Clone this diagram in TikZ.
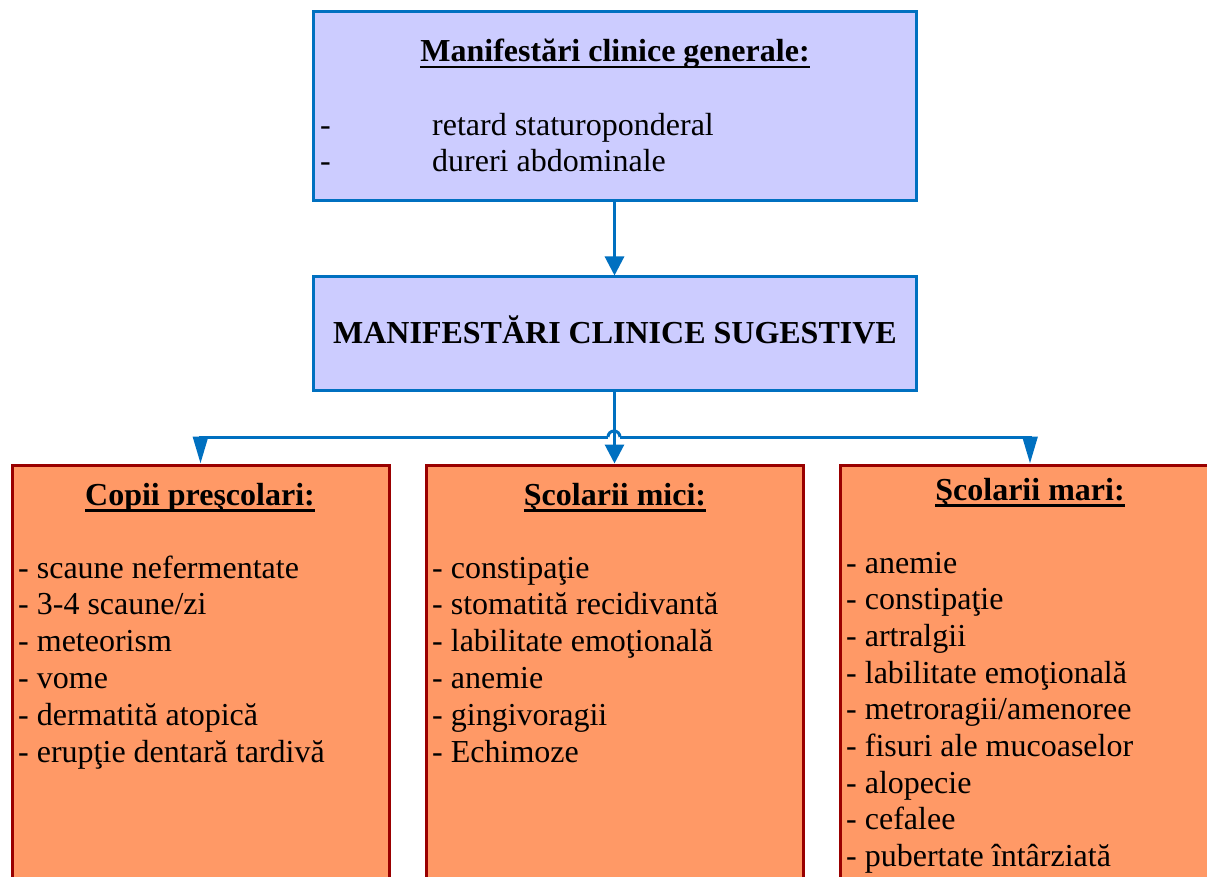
\documentclass[tikz,border=0pt]{standalone}
\usepackage{fontspec}
\setmainfont{Liberation Serif}
\newcommand\myul[1]{\setbox0\hbox{#1}\rlap{\rule[-6.5pt]{\wd0}{2.6pt}}\box0}
\usetikzlibrary{arrows.meta}
\definecolor{bblue}{RGB}{0,112,192}
\definecolor{lav}{RGB}{204,204,255}
\definecolor{org}{RGB}{255,153,102}
\definecolor{dred}{RGB}{153,0,0}
\begin{document}
\begin{tikzpicture}[x=1pt,y=-1pt,
  bluebox/.style={draw=bblue, fill=lav, line width=3pt, rectangle, inner sep=0pt},
  redbox/.style={draw=dred, fill=org, line width=3pt, rectangle, inner sep=0pt},
  wire/.style={draw=bblue, line width=3pt},
  conn/.style={wire, -{Triangle[length=19pt,width=19pt]}},
  sideconn/.style={wire, -{Triangle[length=27pt,width=15pt]}},
  txt/.style={font=\fontsize{32}{38}\selectfont, inner sep=0pt, anchor=base west},
  ttl/.style={font=\fontsize{32}{38}\selectfont\bfseries, inner sep=0pt, anchor=base}]
\useasboundingbox (0,0) rectangle (1207,877);
\clip (0,0) rectangle (1207,877);
\fill[white] (0,0) rectangle (1207,877);
% boxes
\node[bluebox, minimum width=603pt, minimum height=189pt] (top) at (614.5,106.5) {};
\node[bluebox, minimum width=603pt, minimum height=113pt] (mid) at (614.5,333.5) {};
\node[redbox, minimum width=377pt, minimum height=440pt] (b1) at (200.5,685) {};
\node[redbox, minimum width=377pt, minimum height=440pt] (b2) at (614.5,685) {};
\node[redbox, minimum width=380pt, minimum height=440pt] (b3) at (1030,685) {};
% connectors
\coordinate (hl) at (608,437);
\coordinate (hr) at (620,437);
\draw[conn] (top.south) -- (mid.north);
\draw[conn] (mid.south) -- (b2.north);
\draw[sideconn] (hl) -| (b1.north);
\draw[sideconn] (hr) -| (b3.north);
\draw[wire] (hl) arc[start angle=180, end angle=360, radius=6];
% texts top
\node[ttl] (t0) at (615,62) {\myul{Manifestări clinice generale:}};
\node[txt] (t1) at (320,136) {\makebox[112pt][l]{-}retard staturoponderal};
\node[txt] (t2) at (320,172) {\makebox[112pt][l]{-}dureri abdominale};
\node[ttl] (m0) at (615,343) {MANIFESTĂRI CLINICE SUGESTIVE};
% bottom titles
\node[ttl] (c0) at (200,505) {\myul{Copii preşcolari:}};
\node[ttl] (d0) at (615,505) {\myul{Şcolarii mici:}};
\node[ttl] (e0) at (1030,500) {\myul{Şcolarii mari:}};
% lists
\foreach \s [count=\i] in {scaune nefermentate, 3-4 scaune/zi, meteorism, vome, dermatită atopică, erupţie dentară tardivă}
  \node[txt] (c\i) at (18,{578+36.8*(\i-1)}) {- \s};
\foreach \s [count=\i] in {constipaţie, stomatită recidivantă, labilitate emoţională, anemie, gingivoragii, Echimoze}
  \node[txt] (d\i) at (432,{578+36.8*(\i-1)}) {- \s};
\foreach \s [count=\i] in {anemie, constipaţie, artralgii, labilitate emoţională, metroragii/amenoree, fisuri ale mucoaselor, alopecie, cefalee, pubertate întârziată}
  \node[txt] (e\i) at (846,{573+36.7*(\i-1)}) {- \s};
\end{tikzpicture}
\end{document}
